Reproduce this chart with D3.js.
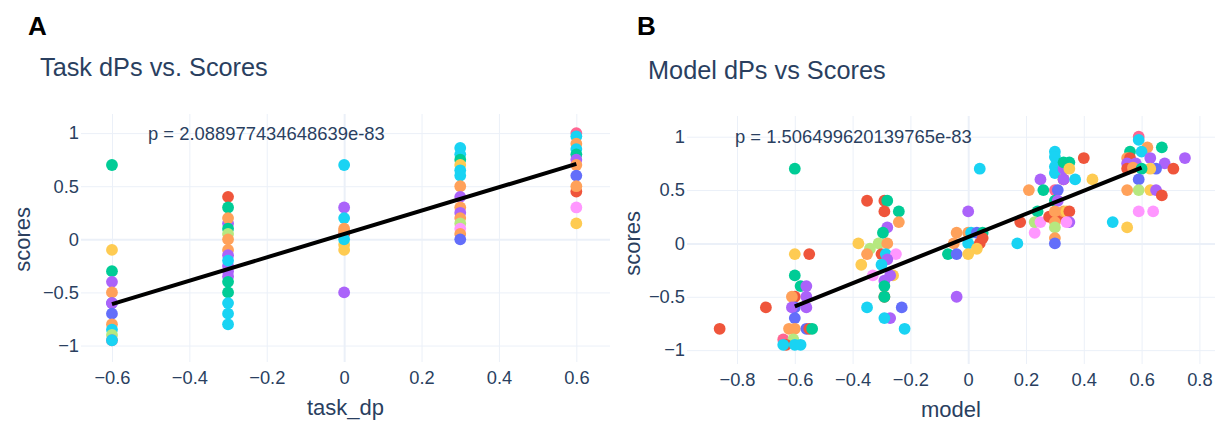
<!DOCTYPE html>
<html>
<head>
<meta charset="utf-8">
<script src="https://cdn.jsdelivr.net/npm/d3@7"></script>
<style>
  body { margin: 0; background: #fff; }
  text { font-family: "Liberation Sans", Arial, sans-serif; fill: #2a3f5f; }
</style>
</head>
<body>
<svg id="chart"></svg>
<script>
// plotly default colour cycle, the group index in the C arrays points into it
var palette = ["#636efa", "#EF553B", "#00cc96", "#ab63fa", "#FFA15A",
               "#19d3f3", "#FF6692", "#B6E880", "#FF97FF", "#FECB52"];

// panel A: task dP vs score
var taskX = [-0.6,-0.6,-0.6,-0.6,-0.6,-0.6,-0.6,-0.6,-0.6,-0.6,-0.6,-0.6,-0.6,
             -0.3,-0.3,-0.3,-0.3,-0.3,-0.3,-0.3,-0.3,-0.3,-0.3,-0.3,-0.3,-0.3,-0.3,-0.3,-0.3,-0.3,-0.3,
             0,0,0,0,0,0,0,0,0,0,
             0.3,0.3,0.3,0.3,0.3,0.3,0.3,0.3,0.3,0.3,0.3,0.3,0.3,0.3,0.3,
             0.6,0.6,0.6,0.6,0.6,0.6,0.6,0.6,0.6,0.6,0.6,0.6];
var taskY = [0.7,-0.1,-0.3,-0.4,-0.5,-0.6,-0.6,-0.7,-0.8,-0.85,-0.9,-0.95,-0.95,
             0.4,0.3,0.15,0.2,0.1,0.05,0,-0.1,-0.15,-0.25,-0.35,-0.3,-0.2,-0.4,-0.5,-0.6,-0.7,-0.8,
             0.7,0.3,0.2,0.1,0.05,0.08,-0.05,-0.1,0,-0.5,
             0.86,0.8,0.75,0.7,0.65,0.6,0.5,0.4,0.3,0.25,0.2,0.15,0.1,0.05,0,
             1.0,0.97,0.9,0.85,0.8,0.75,0.7,0.6,0.45,0.5,0.3,0.15];
var taskC = [2,9,2,3,4,0,3,0,4,5,7,6,5,
             1,2,3,4,2,7,4,4,3,3,3,3,5,2,2,5,5,5,
             5,3,5,4,1,4,9,9,5,3,
             5,5,2,9,5,5,4,3,4,3,4,7,8,4,0,
             6,5,4,5,2,3,4,0,1,4,8,9];
var taskFitX = [-0.6, 0.6];
var taskFitY = [-0.61, 0.71];

// panel B: model dP vs score
var modelX = [-0.86,-0.70,-0.60,-0.60,-0.55,-0.60,-0.58,-0.56,-0.60,-0.61,-0.56,-0.60,-0.61,-0.56,-0.60,-0.62,-0.60,-0.56,-0.55,-0.54,-0.64,-0.605,-0.63,-0.64,-0.60,-0.58,
              -0.35,-0.29,-0.28,-0.29,-0.24,-0.24,-0.28,-0.295,-0.38,-0.34,-0.31,-0.28,-0.35,-0.30,-0.285,-0.25,-0.28,-0.37,-0.30,-0.33,-0.26,-0.27,-0.29,-0.29,-0.29,-0.29,-0.35,-0.23,-0.27,-0.29,-0.22,
              0.0,-0.04,0.0,0.01,0.03,0.05,-0.05,0.0,0.04,0.05,0.03,-0.07,-0.04,0.0,-0.04,0.04,
              0.17,0.18,0.23,0.21,0.25,0.26,0.24,0.23,0.25,0.3,0.3,0.3,0.3,0.33,0.33,0.33,0.33,0.35,0.35,0.37,0.4,0.43,0.3,0.31,0.3,0.31,0.28,0.31,0.3,0.33,0.34,0.35,0.35,0.34,0.3,0.3,0.3,0.3,
              0.5,0.55,0.59,0.59,0.62,0.56,0.6,0.55,0.56,0.63,0.55,0.58,0.67,0.75,0.68,0.71,0.65,0.63,0.55,0.57,0.6,0.59,0.55,0.59,0.63,0.65,0.67,0.59,0.64];
var modelY = [-0.8,-0.6,0.70,-0.10,-0.10,-0.30,-0.40,-0.40,-0.5,-0.5,-0.5,-0.6,-0.6,-0.6,-0.7,-0.8,-0.8,-0.8,-0.8,-0.8,-0.9,-0.9,-0.95,-0.95,-0.95,-0.95,
              0.4,0.4,0.4,0.3,0.3,0.2,0.15,0.1,0,-0.05,0,0,-0.1,-0.1,-0.1,-0.1,-0.15,-0.2,-0.2,-0.3,-0.3,-0.3,-0.35,-0.4,-0.5,-0.5,-0.6,-0.6,-0.7,-0.7,-0.8,
              0.3,0.1,0.1,0.1,0.1,0.1,0,0,0,0.05,-0.05,-0.1,-0.1,-0.1,-0.5,0.7,
              0,0.2,0.1,0.5,0.6,0.5,0.3,0.2,0.2,0.86,0.81,0.72,0.66,0.6,0.6,0.7,0.76,0.76,0.7,0.6,0.8,0.6,0.5,0.5,0.4,0.4,0.25,0.25,0.3,0.3,0.3,0.3,0.2,0.2,0.2,0.15,0.05,0,
              0.2,0.15,1.0,0.97,0.9,0.86,0.86,0.8,0.8,0.8,0.75,0.75,0.9,0.8,0.75,0.7,0.7,0.7,0.7,0.71,0.7,0.6,0.5,0.5,0.5,0.5,0.45,0.3,0.3];
var modelC = [1,1,2,9,1,2,2,3,1,4,3,0,3,3,0,4,4,0,1,2,6,7,1,5,5,5,
              1,1,2,1,2,4,3,2,9,7,7,4,4,1,5,8,3,9,5,8,9,3,3,2,1,2,5,0,3,5,5,
              3,4,4,5,0,2,4,5,1,1,9,2,0,9,3,5,
              5,1,8,4,3,2,2,7,8,5,5,5,5,1,3,3,2,2,9,5,1,9,6,0,2,3,1,1,4,4,9,1,3,8,4,7,4,0,
              5,9,6,5,4,2,5,4,1,3,3,3,2,3,3,1,0,9,1,4,2,0,4,7,9,3,1,8,8];
var modelFitX = [-0.6, 0.6];
var modelFitY = [-0.59, 0.71];

var xTicksA = [-0.6, -0.4, -0.2, 0, 0.2, 0.4, 0.6];
var xTicksB = [-0.8, -0.6, -0.4, -0.2, 0, 0.2, 0.4, 0.6, 0.8];
var yTicks = [-1, -0.5, 0, 0.5, 1];

var width = 1219, height = 422;
var grid = "#ebf0f8";
var fmt = d3.format("~g");

var svg = d3.select("#chart")
  .attr("width", width)
  .attr("height", height)
  .style("background", "#fff");

function drawPanel(p) {
  var x = d3.scaleLinear().domain(p.xDomain).range([p.left, p.right]);
  var y = d3.scaleLinear().domain(p.yDomain).range([p.bottom, p.top]);
  var g = svg.append("g");

  // gridlines come from the axes with a full-width tick
  var ya = g.append("g")
    .attr("transform", "translate(" + p.left + ",0)")
    .call(d3.axisLeft(y).tickValues(yTicks).tickFormat(fmt)
      .tickSizeInner(-(p.right - p.left)).tickSizeOuter(0).tickPadding(2));
  var xa = g.append("g")
    .attr("transform", "translate(0," + p.bottom + ")")
    .call(d3.axisBottom(x).tickValues(p.xTicks).tickFormat(fmt)
      .tickSizeInner(-(p.bottom - p.top)).tickSizeOuter(0).tickPadding(9));
  [ya, xa].forEach(function(a) {
    a.select(".domain").remove();
    a.selectAll("line").attr("stroke", grid).attr("stroke-width", 1);
    a.selectAll("text").style("font-size", "18.3px").attr("fill", "#2a3f5f");
  });
  // zero lines a bit heavier, like plotly
  ya.selectAll(".tick").filter(function(d) { return d === 0; })
    .select("line").attr("stroke-width", 2);
  xa.selectAll(".tick").filter(function(d) { return d === 0; })
    .select("line").attr("stroke-width", 2);

  g.selectAll(".dot")
    .data(p.xs)
    .enter().append("circle")
      .attr("class", "dot")
      .attr("cx", function(d) { return x(d); })
      .attr("cy", function(d, i) { return y(p.ys[i]); })
      .attr("r", 5.9)
      .attr("fill", function(d, i) { return palette[p.cs[i]]; });

  var line = d3.line()
    .x(function(d) { return x(d); })
    .y(function(d, i) { return y(p.fitY[i]); });
  g.append("path")
    .datum(p.fitX)
    .attr("d", line)
    .attr("fill", "none")
    .attr("stroke", "#000")
    .attr("stroke-width", 4);

  g.append("text")
    .attr("x", p.pX).attr("y", y(1))
    .attr("dy", "0.35em")
    .style("font-size", "18.4px")
    .text(p.pText);

  g.append("text")
    .attr("x", p.letterX).attr("y", 35)
    .style("font-size", "26px").style("font-weight", "bold")
    .style("fill", "#000")
    .text(p.letter);

  g.append("text")
    .attr("x", p.titleX).attr("y", p.titleY)
    .style("font-size", "25.3px")
    .text(p.title);

  g.append("text")
    .attr("x", (p.left + p.right) / 2).attr("y", p.bottom + 53)
    .attr("text-anchor", "middle")
    .style("font-size", "22px")
    .text(p.xTitle);

  g.append("text")
    .attr("transform", "translate(" + p.yTitleX + "," + y(0) + ") rotate(-90)")
    .attr("text-anchor", "middle")
    .attr("dy", "0.35em")
    .style("font-size", "22px")
    .text("scores");
}

drawPanel({
  left: 81, right: 610, top: 114, bottom: 362,
  xDomain: [-0.68, 0.687], yDomain: [-1.155, 1.18],
  xTicks: xTicksA, xs: taskX, ys: taskY, cs: taskC,
  fitX: taskFitX, fitY: taskFitY,
  pX: 148, pText: "p = 2.088977434648639e-83",
  letter: "A", letterX: 28,
  title: "Task dPs vs. Scores", titleX: 40, titleY: 76,
  xTitle: "task_dp", yTitleX: 22
});

drawPanel({
  left: 687, right: 1215, top: 116, bottom: 364,
  xDomain: [-0.973, 0.854], yDomain: [-1.13, 1.194],
  xTicks: xTicksB, xs: modelX, ys: modelY, cs: modelC,
  fitX: modelFitX, fitY: modelFitY,
  pX: 735, pText: "p = 1.506499620139765e-83",
  letter: "B", letterX: 637,
  title: "Model dPs vs Scores", titleX: 648, titleY: 79,
  xTitle: "model", yTitleX: 632
});
</script>
</body>
</html>
